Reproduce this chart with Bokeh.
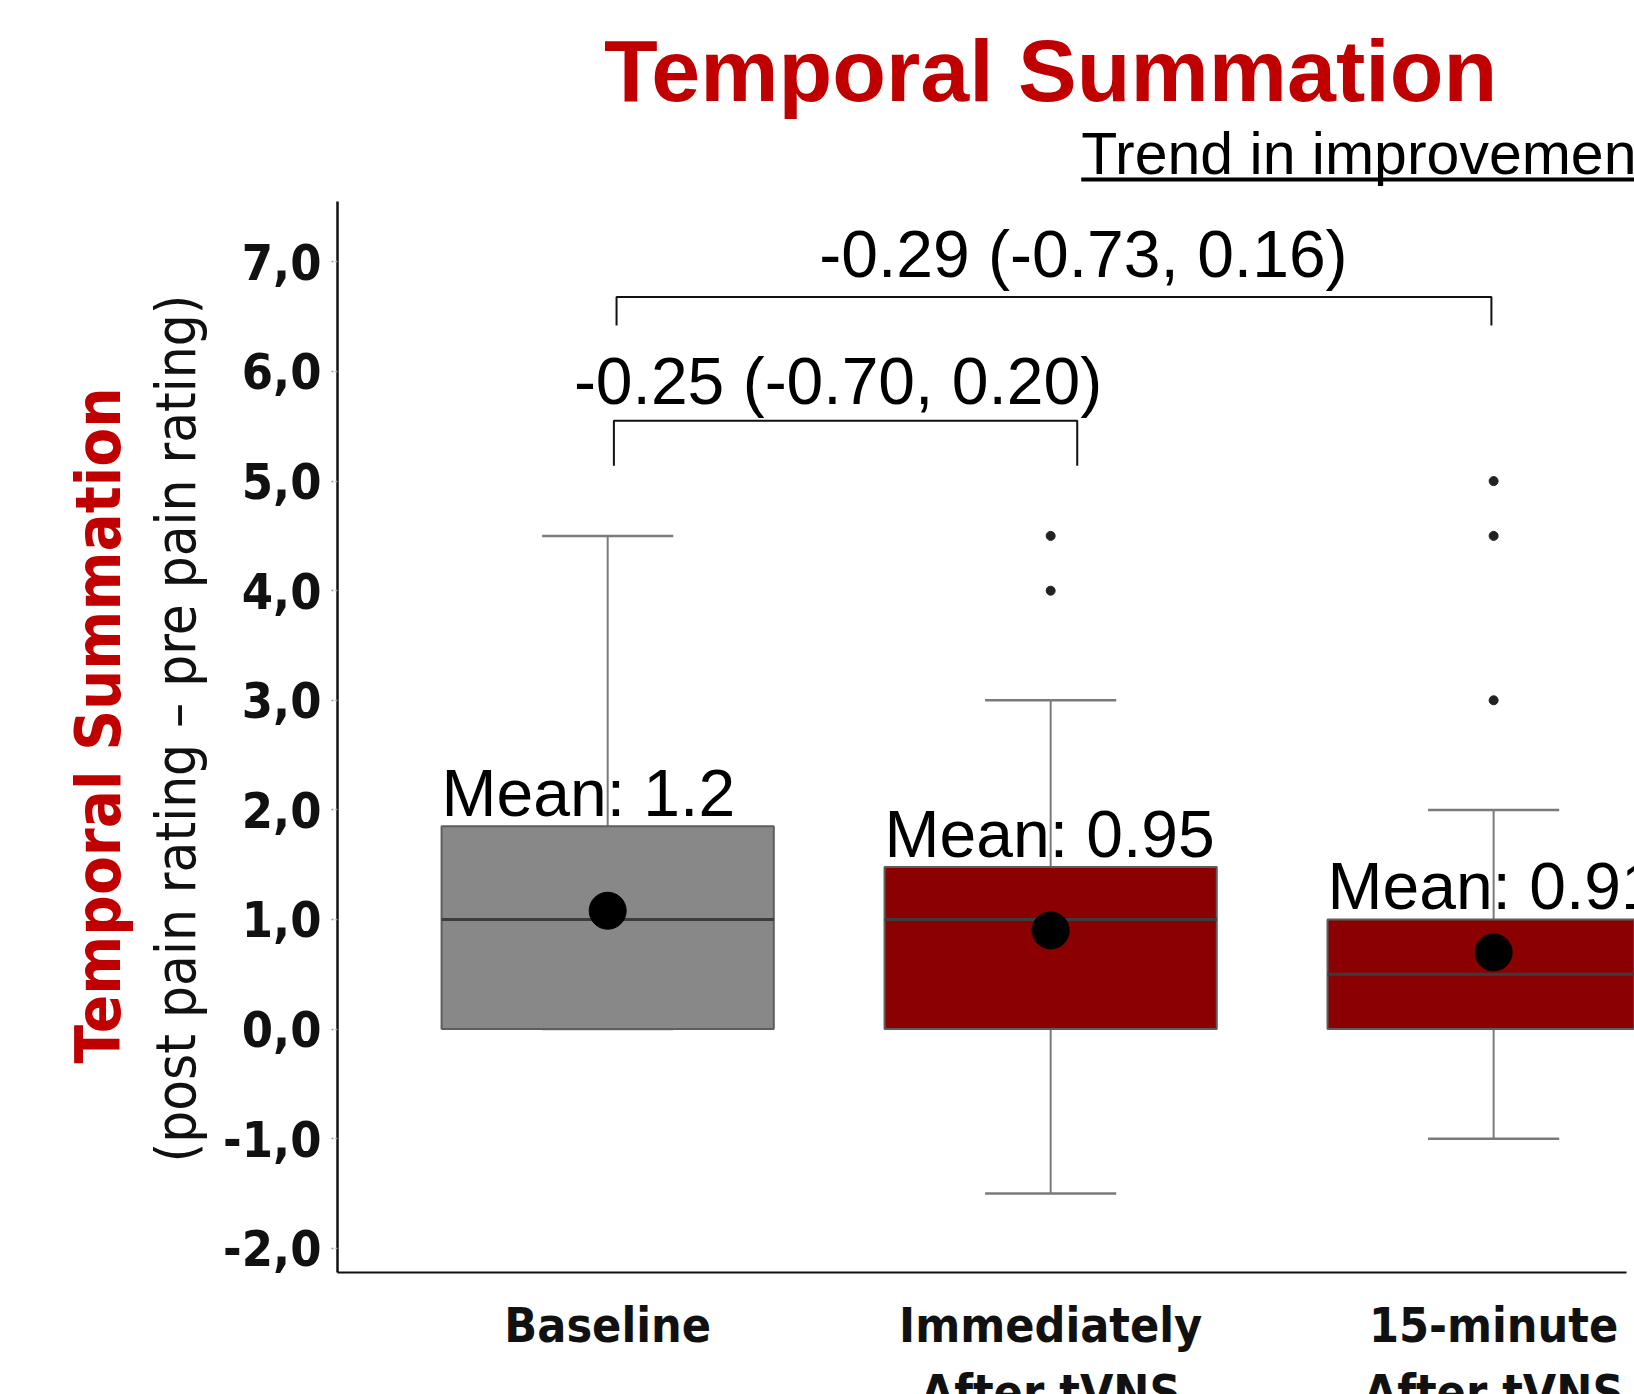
import math
from bokeh.plotting import figure
from bokeh.models import Range1d, FixedTicker
from bokeh.core.properties import value
from bokeh.embed import file_html
from bokeh.resources import INLINE

# ---------------- data ----------------
categories = ["Baseline", "Immediately\nAfter tVNS", "15-minute\nAfter tVNS"]
q1 = [0.0, 0.0, 0.0]
medians = [1.0, 1.0, 0.5]
q3 = [1.85, 1.48, 1.0]
whisker_low = [0.0, -1.5, -1.0]
whisker_high = [4.5, 3.0, 2.0]
means = [1.08, 0.90, 0.70]
mean_labels = ["Mean: 1.2", "Mean: 0.95", "Mean: 0.91"]
outliers = [[], [4.5, 4.0], [5.0, 4.5, 3.0]]
box_colors = ["#888888", "#8B0000", "#8B0000"]
y_ticks = [-2, -1, 0, 1, 2, 3, 4, 5, 6, 7]
y_tick_labels = ["-2,0", "-1,0", "0,0", "1,0", "2,0", "3,0", "4,0", "5,0", "6,0", "7,0"]
comparison_pairs = [(0, 1), (0, 2)]
comparison_labels = ["-0.25 (-0.70, 0.20)", "-0.29 (-0.73, 0.16)"]
title_text = "Temporal Summation"
trend_text = "Trend in improvement"
ylabel_main = "Temporal Summation"
ylabel_sub = "(post pain rating \u2013 pre pain rating)"

# ---------------- layout ----------------
pos = [1, 2, 3]
BOX_W = 0.75
CAP_HW = 0.148
RED = "#C00000"
COND = "DejaVu Sans Condensed"
SANS = "Liberation Sans"
Y_LO, Y_HI = -2.221, 7.552
X_LO, X_HI = 0.39, 3.30
BL = 0.35  # baseline correction (em)

p = figure(width=1634, height=1394,
           x_range=Range1d(-0.3707, 3.318), y_range=Range1d(-3.334, 9.385),
           output_backend="svg", toolbar_location=None, min_border=0)
p.grid.visible = False
p.outline_line_color = None
p.background_fill_color = "white"
p.border_fill_color = "white"

# x axis (category labels)
p.xaxis.fixed_location = Y_LO
p.xaxis.bounds = (X_LO, X_HI)
p.xaxis.ticker = FixedTicker(ticks=pos)
p.xaxis.major_label_overrides = {x: c for x, c in zip(pos, categories)}
p.xaxis.major_tick_line_color = None
p.xaxis.major_tick_out = 0
p.xaxis.major_tick_in = 0
p.xaxis.minor_tick_line_color = None
p.xaxis.axis_line_color = "#111111"
p.xaxis.axis_line_width = 2
p.xaxis.major_label_text_font = COND
p.xaxis.major_label_text_font_style = "bold"
p.xaxis.major_label_text_font_size = "48px"
p.xaxis.major_label_text_color = "#111111"
p.xaxis.major_label_standoff = 24

# y axis
p.yaxis.fixed_location = X_LO
p.yaxis.ticker = FixedTicker(ticks=y_ticks)
p.yaxis.major_label_overrides = {t: l for t, l in zip(y_ticks, y_tick_labels)}
p.yaxis.bounds = (Y_LO, Y_HI)
p.yaxis.axis_line_color = "#111111"
p.yaxis.axis_line_width = 2.5
p.yaxis.major_tick_out = 6
p.yaxis.major_tick_in = 0
p.yaxis.major_tick_line_color = "#9a9a9a"
p.yaxis.major_tick_line_width = 1.5
p.yaxis.major_tick_line_dash = "2 2"
p.yaxis.minor_tick_line_color = None
p.yaxis.major_label_text_font = COND
p.yaxis.major_label_text_font_style = "bold"
p.yaxis.major_label_text_font_size = "50px"
p.yaxis.major_label_text_color = "#111111"
p.yaxis.major_label_standoff = 10

# whiskers
p.segment(x0=pos, y0=q3, x1=pos, y1=whisker_high, line_color="#7a7a7a", line_width=2)
p.segment(x0=pos, y0=whisker_low, x1=pos, y1=q1, line_color="#7a7a7a", line_width=2)
p.segment(x0=[x - CAP_HW for x in pos], y0=whisker_high,
          x1=[x + CAP_HW for x in pos], y1=whisker_high, line_color="#7a7a7a", line_width=2.5)
p.segment(x0=[x - CAP_HW for x in pos], y0=whisker_low,
          x1=[x + CAP_HW for x in pos], y1=whisker_low, line_color="#7a7a7a", line_width=2.5)

# boxes
p.vbar(x=pos, width=BOX_W, bottom=q1, top=q3, fill_color=box_colors,
       line_color="#5e5e5e", line_width=2)
p.segment(x0=[x - BOX_W / 2 for x in pos], y0=medians,
          x1=[x + BOX_W / 2 for x in pos], y1=medians, line_color="#3c3c3c", line_width=3)

# outliers
ox = [pos[i] for i, vals in enumerate(outliers) for _ in vals]
oy = [v for vals in outliers for v in vals]
p.scatter(ox, oy, size=9, color="#222222")

# means
p.scatter(pos, means, size=37, color="black")

# mean labels
p.text(x=[x - BOX_W / 2 for x in pos], y=q3, text=mean_labels, y_offset=-(10 + BL * 66),
       text_font=value(SANS), text_font_size="66px", text_color="black",
       text_align="left", text_baseline="alphabetic")

# comparison brackets
br_tops = [5.55, 6.68]
br_bottoms = [5.14, 6.42]
br_x_adj = [(0.014, 0.06), (0.02, -0.005)]
xs, ys = [], []
for (a, b), top, bot, (da, db) in zip(comparison_pairs, br_tops, br_bottoms, br_x_adj):
    xa, xb = pos[a] + da, pos[b] + db
    xs.append([xa, xa, xb, xb])
    ys.append([bot, top, top, bot])
p.multi_line(xs, ys, line_color="#111111", line_width=2)
p.text(x=[1.52, 2.074], y=[5.70, 6.86], text=comparison_labels, y_offset=-BL * 66,
       text_font=value(SANS), text_font_size="66px", text_color="black",
       text_align="center", text_baseline="alphabetic")

# chart title and trend note
p.text(x=[2.0], y=[8.464], text=[title_text], y_offset=-BL * 88, text_font=value(SANS),
       text_font_style="bold", text_font_size="88px", text_color=RED,
       text_align="center", text_baseline="alphabetic")
p.text(x=[2.069], y=[7.797], text=[trend_text], y_offset=-BL * 59, text_font=value(SANS),
       text_font_size="59px", text_color="black", text_align="left",
       text_baseline="alphabetic")
p.segment(x0=[2.069], y0=[7.752], x1=[3.5], y1=[7.752], line_color="black", line_width=4)

# y axis titles (rotated)
p.text(x=[-0.0998], y=[2.770], text=[ylabel_main], angle=math.pi / 2, x_offset=-BL * 63,
       text_font=value(COND), text_font_style="bold", text_font_size="63px",
       text_color=RED, text_align="center", text_baseline="alphabetic")
p.text(x=[0.0695], y=[2.743], text=[ylabel_sub], angle=math.pi / 2, x_offset=-BL * 56,
       text_font=value(COND), text_font_size="56px",
       text_color="#111111", text_align="center", text_baseline="alphabetic")

open("out.html", "w").write(file_html(p, INLINE))
